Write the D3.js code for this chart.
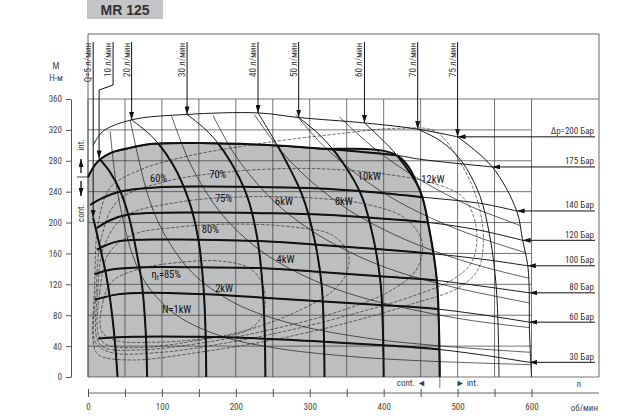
<!DOCTYPE html>
<html>
<head>
<meta charset="utf-8">
<script src="https://cdn.jsdelivr.net/npm/d3@7"></script>
<style>
  body { margin: 0; background: #fff; }
  svg { display: block; font-family: "Liberation Sans Narrow", "Roboto Condensed", "Liberation Sans", Arial, sans-serif; }
</style>
</head>
<body>
<svg id="chart" width="640" height="418"></svg>
<script>
// values: [rpm, torque N-m]
const rpmGrid = [0, 50, 100, 150, 200, 250, 300, 350, 400, 450, 500, 550, 600]
const rpmLabels = [0, 100, 200, 300, 400, 500, 600]
const torqueTicks = [0, 40, 80, 120, 160, 200, 240, 280, 320, 360]

const flowLabels = ["Q=5 л/мин", "10 л/мин", "20 л/мин", "30 л/мин", "40 л/мин", "50 л/мин", "60 л/мин", "70 л/мин", "75 л/мин"]
const flowLines = [
  [[40,0],[36,50],[30,100],[24,135],[17,165],[11,190],[7,206]],
  [[80,0],[78,60],[73,120],[66,160],[56,205],[44,240],[30,265],[15,283]],
  [[160,0],[159,60],[156,120],[149,180],[136,230],[115,275],[88,310],[59,333]],
  [[240,0],[239,60],[236,120],[229,180],[215,235],[192,280],[165,315],[134,340]],
  [[320,0],[319,60],[316,120],[306,180],[290,235],[262,290],[230,342]],
  [[400,0],[399,60],[396,120],[386,180],[370,235],[343,280],[315,312],[285,336]],
  [[476,0],[475,60],[472,126],[462,190],[449,242],[418,287],[374,329]],
  [[556,0],[555,60],[552,120],[544,180],[530,235],[505,280],[478,305],[446,321]],
  [[600,0],[598,40],[597,71],[597,109],[595,144],[588,177],[580,215],[547,272],[500,311]]
]

const pressureLabels = ["Δp=200 Бар", "175 Бар", "140 Бар", "120 Бар", "100 Бар", "80 Бар", "60 Бар", "30 Бар"]
const pressureLines = [
  [[7,300],[20,318],[59,333],[134,340],[230,342],[285,336],[374,329],[446,321],[500,311]],
  [[0,259],[12,278],[30,290],[53,296],[88,302],[151,303],[230,301],[314,296],[418,287],[449,282],[547,272]],
  [[3,223],[20,232],[43,240],[101,246],[232,246],[314,244],[400,238],[462,232],[530,225],[580,215]],
  [[12,193],[30,203],[53,210],[151,213],[250,212],[320,210],[400,205],[462,200],[530,190],[588,177]],
  [[12,165],[25,171],[43,176],[100,178],[232,176],[314,171],[400,165],[462,160],[530,153],[595,144]],
  [[9,133],[30,139],[70,142],[150,142],[232,141],[314,136],[400,130],[462,126],[530,118],[597,109]],
  [[9,100],[40,107],[84,109],[160,107],[232,103],[314,98],[400,93],[462,89],[530,81],[597,71]],
  [[14,50],[60,52],[150,52],[232,50],[314,46],[400,41],[462,37],[530,29],[597,19]]
]

const effLabels = ["60%", "70%", "75%", "80%", "85%"]
const effLabelAt = [[84,252],[164,258],[172,227],[154,186],[86,128]]
const effLoops = [
  [[8,40],[9,120],[14,200],[30,245],[70,268],[130,285],[230,302],[330,314],[420,322],[470,318],[503,279],[527,228],[535,176],[527,138],[500,115],[440,95],[350,70],[250,48],[150,32],[60,22],[15,28]],
  [[10,45],[11,110],[18,180],[40,228],[100,252],[195,266],[300,270],[400,263],[470,250],[507,233],[525,195],[520,150],[493,126],[440,105],[360,82],[270,60],[180,43],[100,32],[30,32]],
  [[12,50],[13,110],[22,170],[50,208],[120,226],[200,233],[300,232],[380,223],[430,205],[452,175],[445,140],[410,112],[340,85],[250,62],[160,45],[70,35],[22,38]],
  [[14,55],[16,110],[28,160],[60,184],[120,194],[200,198],[280,194],[330,184],[352,160],[350,135],[332,112],[290,88],[220,62],[140,46],[70,38],[25,42]],
  [[18,60],[21,100],[33,124],[70,140],[120,148],[180,150],[220,140],[238,115],[236,80],[215,60],[160,50],[90,45],[35,48]]
]

const powerLabels = ["N=1kW", "2kW", "4kW", "6kW", "8kW", "10kW", "12kW"]
const powerLabelAt = [[100,83],[172,110],[255,148],[253,223],[334,223],[365,255],[451,251]]
const powerLines = [
  [[30,318],[40,239],[60,159],[80,119],[120,80],[180,53],[250,38],[350,27],[450,21],[600,16]],
  [[57,333],[80,239],[100,191],[140,136],[200,95],[280,68],[380,50],[480,40],[598,32]],
  [[113,338],[140,273],[180,212],[230,166],[290,132],[360,106],[440,87],[520,73],[597,64]],
  [[169,339],[200,286],[250,229],[300,191],[360,159],[420,136],[500,115],[597,96]],
  [[225,340],[260,294],[300,255],[350,218],[400,191],[460,166],[530,144],[596,128]],
  [[281,340],[320,298],[370,258],[420,227],[480,199],[540,177],[592,161]],
  [[340,337],[380,302],[420,273],[470,244],[520,220],[560,205],[585,196]]
]

const svg = d3.select("#chart")
const x = d3.scaleLinear().domain([0, 600]).range([88, 531.5])
const y = d3.scaleLinear().domain([0, 360]).range([377, 99])
const line = d3.line().x(d => x(d[0])).y(d => y(d[1])).curve(d3.curveCatmullRom)
const loop = d3.line().x(d => x(d[0])).y(d => y(d[1])).curve(d3.curveCatmullRomClosed)
const frameRight = 599, frameTop = 34

const defs = svg.append("defs")
defs.append("marker")
    .attr("id", "arrow")
    .attr("viewBox", "0 0 10 10")
    .attr("refX", 10).attr("refY", 5)
    .attr("markerWidth", 8).attr("markerHeight", 5)
    .attr("markerUnits", "userSpaceOnUse")
    .attr("preserveAspectRatio", "none")
    .attr("orient", "auto")
  .append("path")
    .attr("d", "M0,0L10,5L0,10Z")
    .attr("fill", "#111")

// continuous region = under 175 bar and left of 60 l/min
const p175 = pressureLines[1]
const q60 = flowLines[6]
const cornerRpm = 418
const boundary = p175.filter(d => d[0] <= cornerRpm)
  .concat(q60.filter(d => d[1] < 287).reverse())
const regionPath = line(boundary) + "L" + x(0) + "," + y(0) + "Z"

defs.append("clipPath").attr("id", "cont")
  .append("path").attr("d", regionPath)

// title box
svg.append("rect")
   .attr("x", 87).attr("y", 0).attr("width", 76).attr("height", 19)
   .attr("fill", "#c4c5c7")
svg.append("text")
   .attr("x", 125).attr("y", 15)
   .attr("text-anchor", "middle")
   .style("font-family", "'Liberation Sans', Arial, sans-serif")
   .style("font-weight", "bold").style("font-size", "14px")
   .attr("fill", "#333")
   .text("MR 125")

svg.append("path").attr("d", regionPath).attr("fill", "#bdbec0")

// grid + frame
const grid = svg.append("g").attr("stroke", "#3a3a3a").attr("stroke-width", 0.7)
grid.selectAll(".v").data(rpmGrid).enter().append("line")
    .attr("x1", d => x(d)).attr("x2", d => x(d))
    .attr("y1", y(0)).attr("y2", y(360))
grid.selectAll(".h").data(torqueTicks).enter().append("line")
    .attr("x1", x(0)).attr("x2", d => (d === 0 || d === 360) ? frameRight : x(600))
    .attr("y1", d => y(d)).attr("y2", d => y(d))
svg.append("path")
   .attr("d", `M${x(0)},${y(0)}V${frameTop}H${frameRight}V${y(0)}`)
   .attr("fill", "none").attr("stroke", "#555").attr("stroke-width", 0.9)

// thin background curves
const thin = svg.append("g").attr("fill", "none").attr("stroke", "#1a1a1a")
thin.selectAll(".eff").data(effLoops).enter().append("path")
    .attr("d", loop).attr("stroke-width", 0.6).attr("stroke-dasharray", "3.5,1.5")
thin.selectAll(".pow").data(powerLines).enter().append("path")
    .attr("d", line).attr("stroke-width", 0.7)
thin.selectAll(".flow").data(flowLines).enter().append("path")
    .attr("d", line).attr("stroke-width", 1)
thin.selectAll(".pres").data(pressureLines).enter().append("path")
    .attr("d", line).attr("stroke-width", 1)

// thick inside the continuous region
const thick = svg.append("g").attr("clip-path", "url(#cont)")
    .attr("fill", "none").attr("stroke", "#111").attr("stroke-width", 2)
thick.selectAll(".flow").data(flowLines).enter().append("path").attr("d", line)
thick.selectAll(".pres").data(pressureLines).enter().append("path").attr("d", line)
svg.append("path").attr("d", line(boundary))
   .attr("fill", "none").attr("stroke", "#111").attr("stroke-width", 2)

// flow arrows from top labels
const lbl = svg.append("g").attr("fill", "#333").style("font-size", "9px")
flowLines.forEach((pts, i) => {
  const tip = pts[pts.length - 1]
  const tx = x(tip[0]), ty = y(tip[1])
  const lx = i === 1 ? tx + 14 : tx
  const d = i === 1 ? `M${lx},42V85L${tx},90V${ty}` : `M${lx},42V${ty}`
  svg.append("path").attr("d", d)
     .attr("fill", "none").attr("stroke", "#111").attr("stroke-width", 1)
     .attr("marker-end", "url(#arrow)")
  lbl.append("text")
     .attr("transform", `translate(${lx - 2},43) rotate(-90)`)
     .attr("text-anchor", "end")
     .text(flowLabels[i])
})

// pressure arrows from right labels
pressureLines.forEach((pts, i) => {
  const tip = pts[pts.length - 1]
  const ty = y(tip[1])
  svg.append("path").attr("d", `M595,${ty}H${x(tip[0])}`)
     .attr("fill", "none").attr("stroke", "#111").attr("stroke-width", 1)
     .attr("marker-end", "url(#arrow)")
  lbl.append("text")
     .attr("x", 594).attr("y", ty - 2.5)
     .attr("text-anchor", "end")
     .text(pressureLabels[i])
})

// curve labels
const cl = svg.append("g").attr("fill", "#111").style("font-size", "10.5px")
effLabels.forEach((t, i) => {
  const txt = cl.append("text").attr("x", x(effLabelAt[i][0])).attr("y", y(effLabelAt[i][1]))
  if (i === 4) {
    txt.append("tspan").text("η")
    txt.append("tspan").attr("dy", 2).style("font-size", "7px").text("t")
    txt.append("tspan").attr("dy", -2).text("=" + t)
  } else {
    txt.text(t)
  }
})
powerLabels.forEach((t, i) => {
  cl.append("text").attr("x", x(powerLabelAt[i][0])).attr("y", y(powerLabelAt[i][1])).text(t)
})

// y axis
const yAxis = svg.append("g").attr("transform", "translate(71,0)")
   .call(d3.axisLeft(y).tickValues(torqueTicks).tickSize(5).tickSizeOuter(0).tickPadding(4))
yAxis.select(".domain").attr("stroke", "#555")
yAxis.selectAll("line").attr("stroke", "#555")
yAxis.selectAll("text").attr("fill", "#444")
     .style("font-size", "9px").style("font-family", null)
yAxis.attr("font-family", null)
svg.append("text").attr("x", 56).attr("y", 69).attr("text-anchor", "middle")
   .attr("fill", "#444").style("font-size", "9px").text("M")
svg.append("text").attr("x", 56).attr("y", 81).attr("text-anchor", "middle")
   .attr("fill", "#444").style("font-size", "9px").text("Н-м")

// x axis
const xAxis = svg.append("g").attr("transform", "translate(0,393)")
   .call(d3.axisBottom(x).tickValues(rpmGrid).tickSize(4).tickSizeOuter(0)
           .tickFormat(d => rpmLabels.includes(d) ? d : ""))
xAxis.select(".domain").remove()
xAxis.selectAll("line").attr("y1", -4).attr("y2", 4).attr("stroke", "#555")
xAxis.selectAll("text").attr("y", 11).attr("fill", "#444")
     .style("font-size", "9px")
xAxis.attr("font-family", null)
svg.append("line").attr("x1", x(0)).attr("x2", frameRight).attr("y1", 393).attr("y2", 393)
   .attr("stroke", "#555").attr("stroke-width", 0.9)
svg.append("text").attr("x", 598).attr("y", 411).attr("text-anchor", "end")
   .attr("fill", "#444").style("font-size", "9px").text("об/мин")
svg.append("text").attr("x", 579).attr("y", 387).attr("text-anchor", "middle")
   .attr("fill", "#444").style("font-size", "9px").text("n")

// cont. / int. markers
const blue = "#2c3d66"
const limitX = x(q60[0][0])
svg.append("line").attr("x1", limitX).attr("x2", limitX).attr("y1", y(0)).attr("y2", 388)
   .attr("stroke", "#555").attr("stroke-width", 0.8)
svg.append("text").attr("x", limitX - 14).attr("y", 386).attr("text-anchor", "end")
   .attr("fill", blue).style("font-size", "9px").text("cont. ◄")
svg.append("text").attr("x", limitX + 16).attr("y", 386)
   .attr("fill", blue).style("font-size", "9px").text("► int.")

const limitY = y(p175[0][1])
svg.append("line").attr("x1", 77).attr("x2", x(0)).attr("y1", limitY).attr("y2", limitY)
   .attr("stroke", "#333").attr("stroke-width", 0.9)
svg.append("path").attr("d", `M81,${limitY - 4}V${limitY - 18}`)
   .attr("stroke", "#222").attr("stroke-width", 1.4).attr("marker-end", "url(#arrow)")
svg.append("path").attr("d", `M81,${limitY + 4}V${limitY + 19}`)
   .attr("stroke", "#222").attr("stroke-width", 1.4).attr("marker-end", "url(#arrow)")
svg.append("text").attr("transform", `translate(84,${limitY - 32}) rotate(-90)`)
   .attr("text-anchor", "middle").attr("fill", "#333").style("font-size", "9px").text("int.")
svg.append("text").attr("transform", `translate(84,${limitY + 36}) rotate(-90)`)
   .attr("text-anchor", "middle").attr("fill", "#333").style("font-size", "9px").text("cont.")
</script>
</body>
</html>
